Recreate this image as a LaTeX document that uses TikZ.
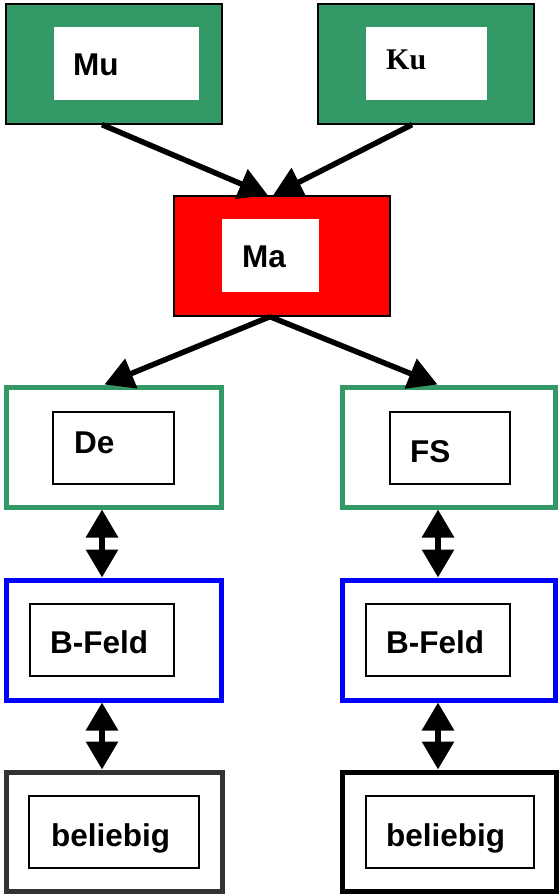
\documentclass[tikz,border=0pt]{standalone}
\usepackage{fontspec}
\setmainfont{Liberation Sans}
\newfontfamily\kuserif{Liberation Serif}
\usetikzlibrary{arrows.meta}
\definecolor{mygreen}{RGB}{51,153,102}
\definecolor{mygray}{RGB}{51,51,51}
\tikzset{
  mybox/.style = {rectangle, minimum width=216pt, minimum height=120pt, inner sep=0pt},
  myfilled/.style = {mybox, draw=black, line width=1.3pt},
  myframe/.style = {mybox, line width=5pt},
  myinner/.style = {rectangle, minimum height=73pt, inner sep=0pt},
  mylabel/.style = {anchor=base west, inner sep=0pt, font=\bfseries\fontsize{31.5}{36}\selectfont},
  myarrow/.style = {line width=5.5pt, -{Triangle[length=29pt,width=31pt]}},
  mydouble/.style = {line width=6pt, {Triangle[length=28pt,width=31pt]}-{Triangle[length=28pt,width=31pt]}}
}

\begin{document}
\begin{tikzpicture}[x=1pt, y=-1pt]
\useasboundingbox (0,0) rectangle (558,894);

% 上の2つの箱
\node[myfilled, fill=mygreen] (mu) at (114,64) {};
\node[myfilled, fill=mygreen] (ku) at (426,64) {};
\node[myinner, fill=white, minimum width=145pt] (mu-in) at (126.5,63.5) {};
\node[myinner, fill=white, minimum width=121pt] (ku-in) at (426.5,63.5) {};
\node[mylabel] (mu-text) at (73,75) {Mu};
\node[mylabel, font=\kuserif\bfseries\fontsize{30}{36}\selectfont] (ku-text) at (386,69) {Ku};

% 中央の箱
\node[myfilled, fill=red] (ma) at (282,256) {};
\node[myinner, fill=white, minimum width=97pt] (ma-in) at (270.5,255.5) {};
\node[mylabel] (ma-text) at (242,267) {Ma};

% 2段目
\node[myframe, draw=mygreen, minimum width=215pt] (de) at (113.5,447) {};
\node[myframe, draw=mygreen, minimum width=213pt] (fs) at (448.5,447) {};
\node[myinner, draw, line width=1.5pt, minimum width=121pt, minimum height=72pt] (de-in) at (113.5,448) {};
\node[myinner, draw, line width=1.5pt, minimum width=120pt, minimum height=72pt] (fs-in) at (450,448) {};
\node[mylabel] (de-text) at (74,453) {De};
\node[mylabel] (fs-text) at (410,462) {FS};

% 3段目
\node[myframe, draw=blue, minimum width=215pt] (bl) at (113.5,640) {};
\node[myframe, draw=blue, minimum width=213pt] (br) at (448.5,640) {};
\node[myinner, draw, line width=1.5pt, minimum width=144pt, minimum height=72pt] (bl-in) at (102,640) {};
\node[myinner, draw, line width=1.5pt, minimum width=144pt, minimum height=72pt] (br-in) at (438,640) {};
\node[mylabel] (bl-text) at (50,653) {B-Feld};
\node[mylabel] (br-text) at (386,653) {B-Feld};

% 4段目
\node[myframe, draw=mygray, minimum height=119pt] (gl) at (114,831.5) {};
\node[myframe, draw=black, minimum width=214pt, minimum height=119pt] (gr) at (449,831.5) {};
\node[myinner, draw, line width=1.5pt, minimum width=170pt, minimum height=72pt] (gl-in) at (114,832) {};
\node[myinner, draw, line width=1.5pt, minimum width=168pt, minimum height=72pt] (gr-in) at (450,832) {};
\node[mylabel] (gl-text) at (51,846) {beliebig};
\node[mylabel] (gr-text) at (386,846) {beliebig};

% 矢印
\draw[myarrow] ([xshift=-12pt]mu.south) -- ([xshift=-14pt]ma.north);
\draw[myarrow] ([xshift=-14pt]ku.south) -- ([xshift=-9pt]ma.north);
\draw[myarrow] ([xshift=-12pt]ma.south) -- ([xshift=-9pt]de.north);
\draw[myarrow] ([xshift=-12pt]ma.south) -- ([xshift=-11pt]fs.north);

% 両方向の矢印
\draw[mydouble] ([xshift=-11.5pt]de.south) -- ([xshift=-11.5pt]bl.north);
\draw[mydouble] ([xshift=-10.5pt]fs.south) -- ([xshift=-10.5pt]br.north);
\draw[mydouble] ([xshift=-11.5pt]bl.south) -- ([xshift=-12pt]gl.north);
\draw[mydouble] ([xshift=-10.5pt]br.south) -- ([xshift=-11pt]gr.north);
\end{tikzpicture}
\end{document}
